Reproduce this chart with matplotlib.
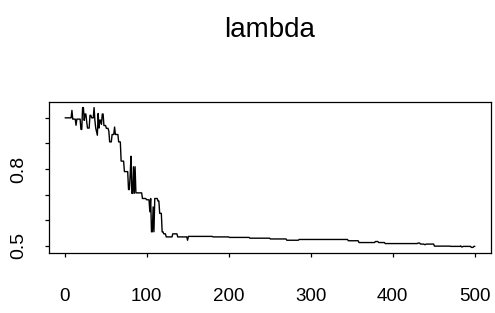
import numpy as np
import matplotlib
matplotlib.use("Agg")
import matplotlib.pyplot as plt

# ---- data (MCMC trace of lambda, run-length encoded) ----
run_values = [1.000, 1.029, 0.995, 0.971, 0.995, 0.955, 1.040, 0.990, 1.015, 0.985,
              0.960, 1.010, 1.000, 1.040, 0.990, 0.960, 0.945, 0.932, 1.017, 0.960,
              0.991, 0.975, 1.015, 0.970, 0.959, 0.948, 0.906, 0.935, 0.964, 0.935,
              0.906, 0.831, 0.790, 0.720, 0.775, 0.850, 0.705, 0.809, 0.705, 0.809,
              0.707, 0.685, 0.680, 0.633, 0.685, 0.555, 0.652, 0.555, 0.685, 0.675,
              0.627, 0.555, 0.547, 0.535, 0.547, 0.535, 0.522, 0.537, 0.535, 0.533,
              0.530, 0.527, 0.522, 0.525, 0.520, 0.513, 0.517, 0.513, 0.509, 0.511,
              0.507, 0.505, 0.507, 0.499, 0.498, 0.500, 0.496, 0.498, 0.494, 0.498]
run_lengths = [8, 1, 4, 1, 5, 2, 2, 1, 2, 1,
               3, 2, 3, 1, 1, 1, 1, 1, 1, 1,
               2, 1, 2, 3, 3, 1, 3, 3, 1, 4,
               3, 4, 5, 2, 1, 1, 2, 1, 1, 1,
               8, 5, 4, 1, 1, 2, 1, 1, 4, 2,
               3, 2, 3, 8, 6, 12, 1, 30, 20, 25,
               25, 20, 15, 60, 13, 20, 4, 8, 40, 3,
               5, 2, 10, 20, 12, 1, 2, 10, 3, 2]
lam = np.repeat(run_values, run_lengths)
iterations = np.arange(1, len(lam) + 1)

xtick_values = [0, 100, 200, 300, 400, 500]
xtick_labels = ["0", "100", "200", "300", "400", "500"]
ytick_values = [0.5, 0.6, 0.7, 0.8, 0.9, 1.0]
ytick_labels = ["0.5", "", "", "0.8", "", ""]
title = "lambda"

plt.rcParams["font.family"] = ["Liberation Sans", "DejaVu Sans"]

W, H = 495, 313
fig = plt.figure(figsize=(W / 100, H / 100), dpi=100)
ax = fig.add_axes([49 / W, 1 - 253 / H, (491 - 49) / W, (253 - 102) / H])

ax.plot(iterations, lam, color="black", linewidth=1.0)
ax.margins(x=0.04, y=0.04)

ax.set_xticks(xtick_values)
ax.set_xticklabels(xtick_labels)
ax.set_yticks(ytick_values)
ax.set_yticklabels(ytick_labels)

for s in ax.spines.values():
    s.set_linewidth(0.9)
    s.set_color("black")

ax.tick_params(axis="x", direction="out", length=3, width=0.9, pad=22, labelsize=13.5)
ax.tick_params(axis="y", direction="out", length=3, width=0.9, pad=13, labelsize=14,
               labelrotation=90)
for lbl in ax.get_yticklabels():
    lbl.set_verticalalignment("center")

fig.text(270 / W, 1 - 37 / H, title, ha="center", va="baseline", fontsize=20)

fig.savefig("out.png", dpi=100)
